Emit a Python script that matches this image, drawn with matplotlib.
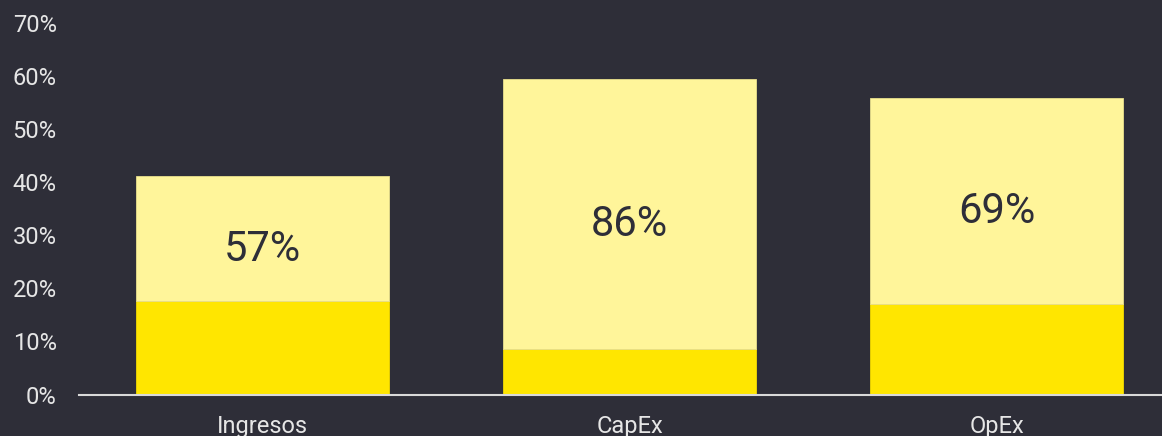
import matplotlib.pyplot as plt
import numpy as np

categories = ['Ingresos', 'CapEx', 'OpEx']
base_share = [17.6, 8.6, 17.1]      # dark yellow segment (%)
total_share = [41.2, 59.5, 55.8]    # top of light segment (%)
share_labels = ['57%', '86%', '69%']
y_ticks = [0, 10, 20, 30, 40, 50, 60, 70]

bg = '#2e2e38'
plt.rcParams['font.family'] = ['Roboto', 'DejaVu Sans']

fig = plt.figure(figsize=(11.62, 4.36), dpi=100, facecolor=bg)
ax = fig.add_axes([79 / 1162, 1 - 394.5 / 436, 1 - 79 / 1162, (394.5 - 23) / 436])
ax.set_facecolor(bg)

x = np.arange(len(categories))
base = np.array(base_share)
total = np.array(total_share)
width = 0.69

ax.bar(x, base, width=width, color='#ffe600', edgecolor='#f2da00', linewidth=0.6, zorder=2)
ax.bar(x, total - base, bottom=base, width=width, color='#fff59a',
       edgecolor='#e8df8c', linewidth=0.6, zorder=2)

for xi, b, t, lab in zip(x, base, total, share_labels):
    ax.text(xi, (b + t) / 2 - 4.2, lab, ha='center', va='baseline',
            fontsize=30, color=bg, zorder=3)

ax.set_xlim(-0.5, 2.45)
ax.set_ylim(0, 70)
ax.set_yticks(y_ticks)
ax.set_yticklabels([f'{v}%' for v in y_ticks])
ax.set_xticks(x)
ax.set_xticklabels(categories)
ax.tick_params(axis='y', length=0, pad=16, labelsize=17, labelcolor='#e6e6e6')
ax.tick_params(axis='x', length=0, pad=14.5, labelsize=17, labelcolor='#e6e6e6')

for side in ['top', 'right', 'left']:
    ax.spines[side].set_visible(False)
ax.spines['bottom'].set_color('#d9d9d9')
ax.spines['bottom'].set_linewidth(1.5)
ax.spines['bottom'].set_zorder(4)

fig.savefig('out.png', dpi=100, facecolor=bg)
